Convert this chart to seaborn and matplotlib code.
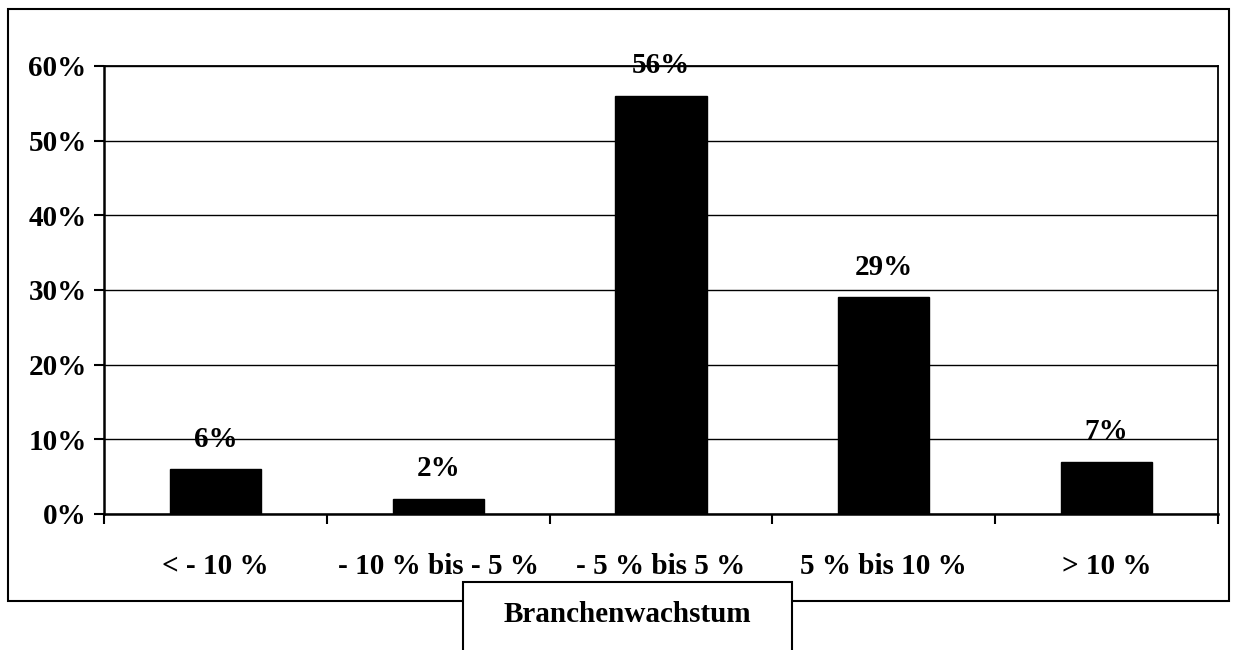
import matplotlib
matplotlib.use('Agg')
import matplotlib.pyplot as plt
from matplotlib.patches import Rectangle
import seaborn as sns
import pandas as pd

# Data
CATEGORIES = ['< - 10 %', '- 10 % bis - 5 %', '- 5 % bis 5 %', '5 % bis 10 %', '> 10 %']
SHARES = [6, 2, 56, 29, 7]
Y_TICKS = [0, 10, 20, 30, 40, 50, 60]
X_TITLE = 'Branchenwachstum'

W, H = 1239, 650


def main():
    sns.set_theme(style='white')
    plt.rcParams['font.family'] = ['Liberation Serif', 'DejaVu Serif']
    plt.rcParams['font.weight'] = 'bold'
    plt.rcParams['text.color'] = 'black'
    plt.rcParams['xtick.color'] = 'black'
    plt.rcParams['ytick.color'] = 'black'
    plt.rcParams['xtick.labelcolor'] = 'black'
    plt.rcParams['ytick.labelcolor'] = 'black'

    df = pd.DataFrame({'Kategorie': CATEGORIES, 'Anteil': SHARES})

    fig = plt.figure(figsize=(W / 100, H / 100), dpi=100)
    fig.patch.set_facecolor('white')
    left, right, top, bottom = 104, 1218, 66, 514
    ax = fig.add_axes([left / W, 1 - bottom / H, (right - left) / W, (bottom - top) / H])

    sns.barplot(data=df, x='Kategorie', y='Anteil', color='black', width=0.41,
                saturation=1, edgecolor='black', linewidth=1, ax=ax, zorder=3)

    ax.set_xlim(-0.5, len(CATEGORIES) - 0.5)
    ax.set_ylim(0, 60)
    ax.set_yticks(Y_TICKS)
    ax.set_yticklabels([f'{v}%' for v in Y_TICKS], fontsize=21, fontweight='bold')
    ax.yaxis.grid(True, color='black', linewidth=1)
    ax.set_axisbelow(True)

    # category boundaries as major ticks, labels on minor ticks
    ax.set_xticks([i - 0.5 for i in range(len(CATEGORIES) + 1)])
    ax.set_xticklabels([])
    ax.set_xticks(range(len(CATEGORIES)), minor=True)
    ax.set_xticklabels(CATEGORIES, minor=True, fontsize=21, fontweight='bold')
    ax.tick_params(axis='x', which='major', direction='out', length=7.5, width=1.5,
                   color='black', bottom=True)
    ax.tick_params(axis='x', which='minor', length=0, pad=28)
    ax.tick_params(axis='y', direction='out', length=7.5, width=1.5, color='black',
                   left=True, pad=5)
    ax.set_xlabel('')
    ax.set_ylabel('')

    for s in ax.spines.values():
        s.set_color('black')
        s.set_linewidth(1.3)
    ax.spines['bottom'].set_linewidth(1.8)
    ax.spines['left'].set_linewidth(1.8)

    for i, v in enumerate(SHARES):
        ax.annotate(f'{v}%', (i, v), xytext=(0, 12), textcoords='offset points',
                    ha='center', va='bottom', fontsize=21, fontweight='bold',
                    color='black', annotation_clip=False)

    # outer frame
    fig.add_artist(Rectangle((8 / W, 1 - 601 / H), (1229 - 8) / W, (601 - 9) / H,
                             transform=fig.transFigure, fill=False,
                             edgecolor='black', linewidth=1.5, zorder=5))
    # axis title box, open at the bottom
    fig.add_artist(Rectangle((463 / W, -0.05), (792 - 463) / W, 0.05 + (H - 582) / H,
                             transform=fig.transFigure, facecolor='white',
                             edgecolor='black', linewidth=1.5, zorder=6))
    fig.text(627 / W, 1 - 614 / H, X_TITLE, ha='center', va='center',
             fontsize=21, fontweight='bold', color='black', zorder=7)

    fig.savefig('out.png', dpi=100)


if __name__ == '__main__':
    main()
